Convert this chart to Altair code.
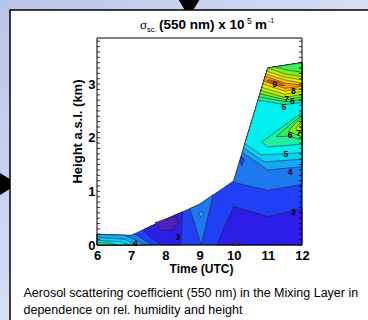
import altair as alt
import pandas as pd

# ---- contour band levels (lower bound, x10^-5 m^-1) and their fill colours
levels = [2.0, 2.5, 3.0, 3.5, 4.0, 4.5, 5.0, 5.5, 6.0, 6.5, 7.0, 7.5, 8.0, 8.5, 9.0]
level_colors = ["#5020b8", "#2c1ee6", "#1f40f5", "#1e78f0", "#12a8f5", "#0ad2f5", "#00f0f0",
                "#20f0a0", "#40ee50", "#80ee20", "#c0ee00", "#eeee00", "#f8c800", "#f89800", "#f06000"]

# ---- contour regions: (time UTC, height km) vertices
envelope   = [(6, 0), (6, 0.2), (7, 0.18), (8, 0.48), (9, 0.76), (10, 1.2), (11, 3.3), (12, 3.4), (12, 0)]
dark_right = [(9.5, 0), (10, 0.72), (11, 0.53), (12, 0.68), (12, 0)]
dark_mid   = [(7.35, 0.285), (8.0, 0.48), (8.5, 0.62), (8.48, 0.3), (8.45, 0), (7.9, 0), (7.6, 0.12)]
purple_mid = [(7.7, 0.42), (8.0, 0.48), (8.3, 0.54), (8.38, 0.42), (8.2, 0.28), (7.9, 0.27)]
purple_low = [(9.92, 0), (10.05, 0.07), (10.22, 0)]
s35_left   = [(6, 0), (6, 0.2), (7, 0.18), (7.1, 0.21), (7.6, 0)]
s35_wedge  = [(8.72, 0.68), (9, 0.76), (9.4, 0.936), (9.05, 0)]
s35_right  = [(9.99, 1.17), (10, 1.2), (11, 3.3), (12, 3.4), (12, 1.13), (11, 1.02)]
spot30     = [(10.22, 1.66), (10.3, 1.6), (10.25, 1.48), (10.18, 1.54)]
s40_left   = [(6, 0), (6, 0.2), (6.8, 0.185), (7.45, 0)]
s40_wedge  = [(8.98, 0.58), (9.06, 0.64), (9.12, 0.57), (9.05, 0.52)]
s40_right  = [(10.25, 1.725), (11, 3.3), (12, 3.4), (12, 1.46), (11, 1.40)]
s45_left   = [(6, 0), (6, 0.14), (6.8, 0.11), (7.15, 0)]
s45_right  = [(10.29, 1.81), (11, 3.3), (12, 3.4), (12, 1.6), (10.9, 1.55)]
s50_left   = [(6, 0), (6, 0.09), (6.7, 0.06), (6.95, 0)]
s50_right  = [(10.329, 1.89), (11, 3.3), (12, 3.4), (12, 1.72), (10.8, 1.68)]
s55_left   = [(6, 0), (6, 0.05), (6.4, 0.035), (6.6, 0)]
s55_blob   = [(10.82, 1.92), (11.25, 2.12), (12, 2.47), (12, 1.88), (11.0, 1.83)]
s55_top    = [(10.714, 2.70), (11, 3.3), (12, 3.4), (12, 2.66), (11.5, 2.62)]
s60_blob   = [(11.25, 2.02), (11.6, 2.22), (12, 2.42), (12, 1.96), (11.6, 2.03)]
s60_top    = [(10.743, 2.76), (11, 3.3), (12, 3.4), (12, 2.71), (11.5, 2.67)]
s65_blob   = [(11.6, 2.12), (11.85, 2.3), (12, 2.37), (12, 2.02), (11.8, 2.07)]
s65_top    = [(10.771, 2.82), (11, 3.3), (11.2, 3.32), (11.6, 3.26), (12, 3.22), (12, 2.76), (11.5, 2.71)]
s70_blob   = [(11.82, 2.18), (12, 2.32), (12, 2.08), (11.9, 2.1)]
s70_top    = [(10.8, 2.88), (11, 3.3), (11.5, 3.19), (12, 3.14), (12, 2.81), (11.5, 2.75)]
s75_blob   = [(11.93, 2.22), (12, 2.28), (12, 2.14)]
s75_top    = [(10.829, 2.94), (10.971, 3.24), (11.5, 3.13), (12, 3.08), (12, 2.87), (11.5, 2.81)]
s80_top    = [(10.857, 3.0), (10.948, 3.19), (11.5, 3.08), (12, 3.02), (12, 2.92), (11.5, 2.87)]
s85_top    = [(10.886, 3.06), (10.929, 3.15), (11.5, 3.02), (12, 2.98), (12, 2.96), (11.5, 2.92)]
s90_top    = [(10.97, 3.06), (11.2, 2.99), (11.5, 2.97), (11.35, 3.03), (11.05, 3.08)]

polygons = [
    (3.0, envelope), (2.5, dark_right), (2.5, dark_mid), (2.0, purple_mid), (2.0, purple_low),
    (3.5, s35_left), (3.5, s35_wedge), (3.5, s35_right), (3.0, spot30),
    (4.0, s40_left), (4.0, s40_wedge), (4.0, s40_right),
    (4.5, s45_left), (4.5, s45_right), (5.0, s50_left), (5.0, s50_right),
    (5.5, s55_left), (5.5, s55_blob), (5.5, s55_top),
    (6.0, s60_blob), (6.0, s60_top), (6.5, s65_blob), (6.5, s65_top),
    (7.0, s70_blob), (7.0, s70_top), (7.5, s75_blob), (7.5, s75_top),
    (8.0, s80_top), (8.5, s85_top), (9.0, s90_top),
]

# ---- contour labels
label_text = ["3", "3", "4", "4", "5", "5", "6", "7", "6", "7", "8", "9"]
label_t = [8.37, 11.75, 7.12, 11.65, 11.53, 11.47, 11.65, 11.9, 11.72, 11.55, 11.75, 11.2]
label_h = [0.14, 0.62, 0.03, 1.37, 1.70, 2.57, 2.05, 2.09, 2.68, 2.73, 2.88, 3.0]

x_ticks = [6, 7, 8, 9, 10, 11, 12]
y_ticks = [0, 1, 2, 3]
y_minor = [round(0.1 * k, 1) for k in range(0, 39)]

rows = []
for k, (lev, verts) in enumerate(polygons):
    pts = list(verts) + [verts[0]]
    for i, (t, h) in enumerate(pts):
        rows.append({"poly": k, "i": i, "t": t, "h": h, "level": lev})
poly_df = pd.DataFrame(rows)
lab_df = pd.DataFrame({"txt": label_text, "t": label_t, "h": label_h})
minor_df = pd.DataFrame({"h": y_minor})
one = pd.DataFrame({"a": [0]})

W, H = 205, 207
FONT = "Liberation Sans"

xs = alt.Scale(domain=[6, 12], nice=False, zero=False)
ys = alt.Scale(domain=[0, 3.86], nice=False)
X = alt.X("t:Q", scale=xs, axis=alt.Axis(values=x_ticks, title="Time (UTC)", grid=False, domain=False,
                                          ticks=False, labelFont=FONT, labelFontWeight="bold", labelFontSize=13,
                                          labelColor="black", labelPadding=4, titleFont=FONT,
                                          titleFontWeight="bold", titleFontSize=12, titleColor="black",
                                          titleX=104, titleY=23, titleBaseline="middle", zindex=1,
                                          labelFlush=False, labelOverlap=False))
Y = alt.Y("h:Q", scale=ys, axis=alt.Axis(values=y_ticks, title="Height a.s.l. (km)", grid=False, domain=False,
                                          ticks=False, labelFont=FONT, labelFontWeight="bold", labelFontSize=13,
                                          labelColor="black", labelPadding=2, titleFont=FONT,
                                          titleFontWeight="bold", titleFontSize=13, titleColor="black",
                                          titleX=-20, titleY=93, titleBaseline="middle", titleAlign="center",
                                          zindex=1, labelFlush=False, labelOverlap=False))

grad = alt.LinearGradient(gradient="linear", x1=0, y1=0, x2=1, y2=1,
                          stops=[alt.GradientStop(color="#b8c3e8", offset=0),
                                 alt.GradientStop(color="#d6ddf4", offset=0.5),
                                 alt.GradientStop(color="#eef1fb", offset=1)])

layers = []
layers.append(alt.Chart(one).mark_rect(fill=grad).encode(
    x=alt.value(-97), x2=alt.value(271), y=alt.value(-38), y2=alt.value(282)))
layers.append(alt.Chart(one).mark_point(shape="M-1,-0.65L1,-0.65L0,1Z", filled=True, fill="black",
                                        opacity=1, size=1600, strokeWidth=0).encode(
    x=alt.value(92), y=alt.value(-41)))
layers.append(alt.Chart(one).mark_point(shape="M-0.65,-1L-0.65,1L1,0Z", filled=True, fill="black",
                                        opacity=1, size=1600, strokeWidth=0).encode(
    x=alt.value(-99), y=alt.value(146)))
layers.append(alt.Chart(one).mark_rect(fill="white", stroke="black", strokeWidth=1.5).encode(
    x=alt.value(-87), x2=alt.value(300), y=alt.value(-28), y2=alt.value(300)))

base = alt.Chart(poly_df)
for k in range(len(polygons)):
    layers.append(base.transform_filter(alt.datum.poly == k).mark_line(
        stroke="#1a1a1a", strokeWidth=0.5, strokeJoin="round").encode(
        x=X, y=Y, order=alt.Order("i:Q"),
        fill=alt.Fill("level:O", scale=alt.Scale(domain=levels, range=level_colors), legend=None)))

layers.append(alt.Chart(lab_df).mark_text(font=FONT, fontWeight="bold", fontSize=8.5, color="black").encode(
    x=X, y=Y, text="txt:N"))

# inward minor ticks on left and right frame
layers.append(alt.Chart(minor_df).mark_rule(color="black", strokeWidth=0.8).encode(
    y=Y, x=alt.value(0), x2=alt.value(3)))
layers.append(alt.Chart(minor_df).mark_rule(color="black", strokeWidth=0.8).encode(
    y=Y, x=alt.value(W - 3), x2=alt.value(W)))
# frame
layers.append(alt.Chart(one).mark_rect(fill=None, stroke="black", strokeWidth=1).encode(
    x=alt.value(0), x2=alt.value(W), y=alt.value(0), y2=alt.value(H)))

# title pieces:  sigma_sc. (550 nm) x 10^5 m^-1
def txt(s, x, y, size, weight="bold", font=FONT):
    return alt.Chart(one).mark_text(text=s, font=font, fontSize=size, fontWeight=weight, color="black",
                                    align="left", baseline="alphabetic").encode(x=alt.value(x), y=alt.value(y))

layers += [
    txt("σ", 43, -9, 13, "normal", "Liberation Serif"),
    txt("sc.", 50, -6, 7.5, "normal"),
    txt("(550 nm) x 10", 62, -9, 13.5),
    txt("5", 150, -14, 8.5, "normal"),
    txt("m", 158, -9, 13.5),
    txt("-1", 171, -15, 7, "normal"),
    txt("Aerosol scattering coefficient (550 nm) in the Mixing Layer in", -73.5, 259, 12.5, "normal"),
    txt("dependence on rel. humidity and height", -73.5, 276, 12.5, "normal"),
]

chart = alt.layer(*layers).properties(
    width=W, height=H,
    autosize=alt.AutoSizeParams(type="none"),
    padding={"left": 97, "top": 38, "right": 66, "bottom": 75},
).configure_view(stroke=None).configure(background="white")

chart.save("out.html", embed_options={"renderer": "svg", "actions": False})
